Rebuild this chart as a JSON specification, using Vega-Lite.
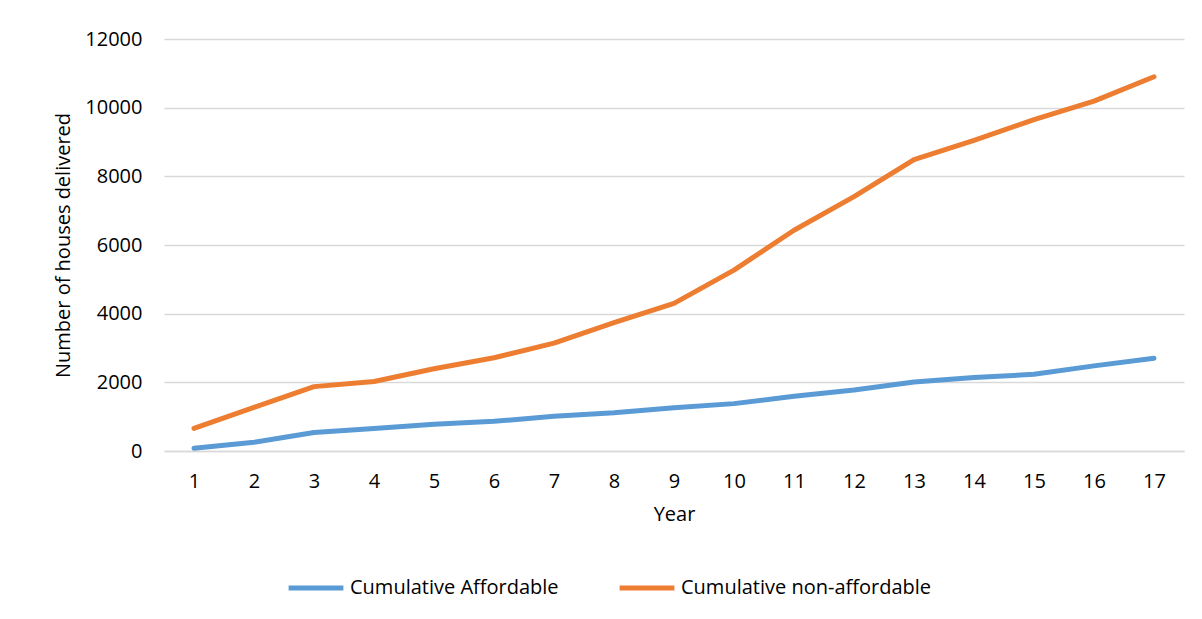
{
  "$schema": "https://vega.github.io/schema/vega-lite/v6.json",
  "autosize": {"type": "none"},
  "width": 1020,
  "height": 412,
  "padding": {"left": 164, "top": 39, "right": 18, "bottom": 168},
  "background": "white",
  "config": {
    "font": "Open Sans",
    "view": {"stroke": null},
    "axis": {"labelFont": "Open Sans", "titleFont": "Open Sans", "labelColor": "#000000", "titleColor": "#000000", "titleFontWeight": "normal"}
  },
  "data": {
    "values": [
      {"year": 1, "series": "Cumulative Affordable", "value": 80},
      {"year": 2, "series": "Cumulative Affordable", "value": 255},
      {"year": 3, "series": "Cumulative Affordable", "value": 540},
      {"year": 4, "series": "Cumulative Affordable", "value": 655},
      {"year": 5, "series": "Cumulative Affordable", "value": 780},
      {"year": 6, "series": "Cumulative Affordable", "value": 865},
      {"year": 7, "series": "Cumulative Affordable", "value": 1010},
      {"year": 8, "series": "Cumulative Affordable", "value": 1115},
      {"year": 9, "series": "Cumulative Affordable", "value": 1260},
      {"year": 10, "series": "Cumulative Affordable", "value": 1380},
      {"year": 11, "series": "Cumulative Affordable", "value": 1595},
      {"year": 12, "series": "Cumulative Affordable", "value": 1775},
      {"year": 13, "series": "Cumulative Affordable", "value": 2010},
      {"year": 14, "series": "Cumulative Affordable", "value": 2140},
      {"year": 15, "series": "Cumulative Affordable", "value": 2235},
      {"year": 16, "series": "Cumulative Affordable", "value": 2480},
      {"year": 17, "series": "Cumulative Affordable", "value": 2700},
      {"year": 1, "series": "Cumulative non-affordable", "value": 660},
      {"year": 2, "series": "Cumulative non-affordable", "value": 1270},
      {"year": 3, "series": "Cumulative non-affordable", "value": 1875},
      {"year": 4, "series": "Cumulative non-affordable", "value": 2025},
      {"year": 5, "series": "Cumulative non-affordable", "value": 2395},
      {"year": 6, "series": "Cumulative non-affordable", "value": 2715},
      {"year": 7, "series": "Cumulative non-affordable", "value": 3140},
      {"year": 8, "series": "Cumulative non-affordable", "value": 3740},
      {"year": 9, "series": "Cumulative non-affordable", "value": 4300},
      {"year": 10, "series": "Cumulative non-affordable", "value": 5270},
      {"year": 11, "series": "Cumulative non-affordable", "value": 6430},
      {"year": 12, "series": "Cumulative non-affordable", "value": 7410},
      {"year": 13, "series": "Cumulative non-affordable", "value": 8490},
      {"year": 14, "series": "Cumulative non-affordable", "value": 9050},
      {"year": 15, "series": "Cumulative non-affordable", "value": 9650},
      {"year": 16, "series": "Cumulative non-affordable", "value": 10190},
      {"year": 17, "series": "Cumulative non-affordable", "value": 10900}
    ]
  },
  "mark": {"type": "line", "strokeWidth": 5, "strokeCap": "round", "strokeJoin": "round"},
  "encoding": {
    "x": {
      "field": "year",
      "type": "ordinal",
      "scale": {"type": "point", "padding": 0.5},
      "axis": {
        "title": "Year",
        "labelAngle": 0,
        "labelFontSize": 20,
        "titleFontSize": 20,
        "labelPadding": 20,
        "titlePadding": 13,
        "ticks": false,
        "domain": true,
        "domainColor": "#d9d9d9",
        "domainWidth": 1.5,
        "grid": false
      }
    },
    "y": {
      "field": "value",
      "type": "quantitative",
      "scale": {"domain": [0, 12000], "nice": false},
      "axis": {
        "title": "Number of houses delivered",
        "values": [0, 2000, 4000, 6000, 8000, 10000, 12000],
        "format": "d",
        "labelFontSize": 20,
        "titleFontSize": 20,
        "labelPadding": 22,
        "titlePadding": 11,
        "ticks": false,
        "domain": false,
        "grid": true,
        "gridColor": "#d9d9d9",
        "gridWidth": 1.5
      }
    },
    "color": {
      "field": "series",
      "type": "nominal",
      "scale": {"domain": ["Cumulative Affordable", "Cumulative non-affordable"], "range": ["#5B9BD5", "#ED7D31"]},
      "legend": {
        "title": null,
        "orient": "none",
        "legendX": 122,
        "legendY": 519,
        "direction": "horizontal",
        "symbolType": "stroke",
        "symbolSize": 3000,
        "symbolStrokeWidth": 5,
        "labelFontSize": 20,
        "labelFont": "Open Sans",
        "labelColor": "#000000",
        "labelOffset": 4,
        "columnPadding": 50,
        "labelLimit": 400
      }
    }
  }
}
